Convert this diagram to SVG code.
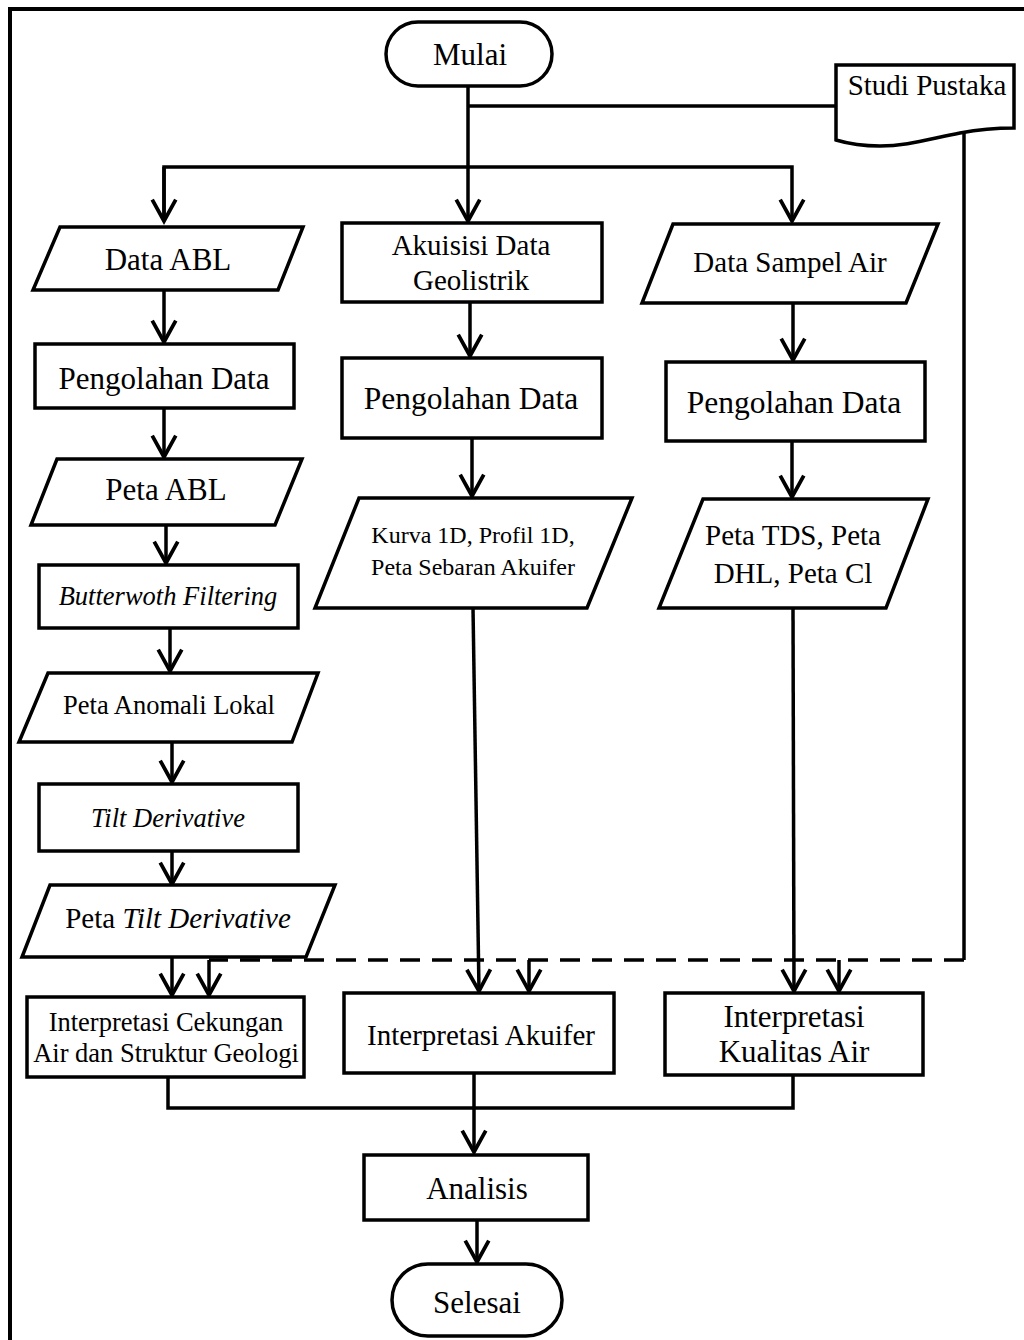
<svg xmlns="http://www.w3.org/2000/svg" width="1024" height="1340" viewBox="0 0 1024 1340">
  <style>
    .shape { fill: #ffffff; stroke: #000000; stroke-width: 3.5; stroke-linejoin: miter; }
    .line { fill: none; stroke: #000000; stroke-width: 3.5; }
    .dash { fill: none; stroke: #000000; stroke-width: 3.5; stroke-dasharray: 20 12; }
    .t { font-family: "Liberation Serif", "Times New Roman", serif; fill: #000000; text-anchor: middle; }
    .i { font-style: italic; }
  </style>
  <defs>
    <marker id="arrow" markerUnits="userSpaceOnUse" markerWidth="30" markerHeight="30" viewBox="-24 -14 28 28" refX="0" refY="0" orient="auto">
      <path d="M -20,-11 L 0,0 L -20,11" fill="none" stroke="#000000" stroke-width="3.5" stroke-linejoin="miter"/>
    </marker>
  </defs>

  <rect width="1024" height="1340" fill="#ffffff"/>

  <!-- page frame -->
  <path d="M10,1340 V9 H1024" fill="none" stroke="#000000" stroke-width="4"/>

  <g id="connectors">
    <!-- start to the three branches -->
    <path class="line" d="M468,86 V221" marker-end="url(#arrow)"/>
    <path class="line" d="M468,106 H836"/>
    <path class="line" d="M164,221 V167 H792 V221" marker-end="url(#arrow)"/>
    <path class="line" d="M164,167 V221" marker-end="url(#arrow)"/>

    <!-- left column -->
    <path class="line" d="M164,290 V342" marker-end="url(#arrow)"/>
    <path class="line" d="M164,408 V457" marker-end="url(#arrow)"/>
    <path class="line" d="M166,525 V563" marker-end="url(#arrow)"/>
    <path class="line" d="M170,628 V671" marker-end="url(#arrow)"/>
    <path class="line" d="M172,742 V782" marker-end="url(#arrow)"/>
    <path class="line" d="M172,851 V884" marker-end="url(#arrow)"/>
    <path class="line" d="M172,957 V995" marker-end="url(#arrow)"/>

    <!-- middle column -->
    <path class="line" d="M470,302 V356" marker-end="url(#arrow)"/>
    <path class="line" d="M472,438 V496" marker-end="url(#arrow)"/>
    <path class="line" d="M473,608 L479,991" marker-end="url(#arrow)"/>

    <!-- right column -->
    <path class="line" d="M793,303 V360" marker-end="url(#arrow)"/>
    <path class="line" d="M792,441 V497" marker-end="url(#arrow)"/>
    <path class="line" d="M793,608 L794,991" marker-end="url(#arrow)"/>

    <!-- literature study feed -->
    <path class="line" d="M964,133 V960"/>
    <path class="dash" d="M964,960 H209"/>
    <path class="line" d="M209,960 V995" marker-end="url(#arrow)"/>
    <path class="line" d="M529,960 V991" marker-end="url(#arrow)"/>
    <path class="line" d="M839,960 V991" marker-end="url(#arrow)"/>

    <!-- merge into analysis -->
    <path class="line" d="M168,1077 V1108 H793 V1075"/>
    <path class="line" d="M474,1073 V1152" marker-end="url(#arrow)"/>
    <path class="line" d="M477,1220 V1262" marker-end="url(#arrow)"/>
  </g>

  <g id="mulai">
    <rect class="shape" x="386" y="22" width="166" height="64" rx="32"/>
    <text class="t" x="470" y="65" font-size="31">Mulai</text>
  </g>

  <g id="studi-pustaka">
    <path class="shape" d="M836,65 H1014 V128 C990,128 976,130 960,133 C925,140 905,146 880,146 C860,146 846,143 836,140 Z"/>
    <text class="t" x="927" y="95" font-size="29">Studi Pustaka</text>
  </g>

  <g id="data-abl">
    <polygon class="shape" points="60,227 303,227 278,290 33,290"/>
    <text class="t" x="168" y="270" font-size="31">Data ABL</text>
  </g>

  <g id="pengolahan-abl">
    <rect class="shape" x="35" y="344" width="259" height="64"/>
    <text class="t" x="164" y="389" font-size="31">Pengolahan Data</text>
  </g>

  <g id="peta-abl">
    <polygon class="shape" points="57,459 302,459 275,525 31,525"/>
    <text class="t" x="166" y="500" font-size="31">Peta ABL</text>
  </g>

  <g id="butterworth">
    <rect class="shape" x="39" y="565" width="259" height="63"/>
    <text class="t i" x="168" y="605" font-size="26.5">Butterwoth Filtering</text>
  </g>

  <g id="anomali-lokal">
    <polygon class="shape" points="48,673 318,673 292,742 19,742"/>
    <text class="t" x="169" y="714" font-size="26.5">Peta Anomali Lokal</text>
  </g>

  <g id="tilt-derivative">
    <rect class="shape" x="39" y="784" width="259" height="67"/>
    <text class="t i" x="168" y="827" font-size="26.5">Tilt Derivative</text>
  </g>

  <g id="peta-tilt">
    <polygon class="shape" points="50,885 335,885 306,957 22,957"/>
    <text class="t" x="178" y="928" font-size="29">Peta <tspan class="i">Tilt Derivative</tspan></text>
  </g>

  <g id="akuisisi">
    <rect class="shape" x="342" y="223" width="260" height="79"/>
    <text class="t" x="471" y="255" font-size="29">Akuisisi Data</text>
    <text class="t" x="471" y="290" font-size="29">Geolistrik</text>
  </g>

  <g id="pengolahan-geolistrik">
    <rect class="shape" x="342" y="358" width="260" height="80"/>
    <text class="t" x="471" y="409" font-size="31.5">Pengolahan Data</text>
  </g>

  <g id="kurva">
    <polygon class="shape" points="359,498 632,498 587,608 315,608"/>
    <text class="t" x="473" y="543" font-size="24">Kurva 1D, Profil 1D,</text>
    <text class="t" x="473" y="575" font-size="24">Peta Sebaran Akuifer</text>
  </g>

  <g id="sampel-air">
    <polygon class="shape" points="673,224 938,224 906,303 642,303"/>
    <text class="t" x="790" y="272" font-size="29">Data Sampel Air</text>
  </g>

  <g id="pengolahan-air">
    <rect class="shape" x="666" y="362" width="259" height="79"/>
    <text class="t" x="794" y="413" font-size="31.5">Pengolahan Data</text>
  </g>

  <g id="peta-tds">
    <polygon class="shape" points="703,499 928,499 886,608 659,608"/>
    <text class="t" x="793" y="545" font-size="29">Peta TDS, Peta</text>
    <text class="t" x="793" y="583" font-size="29">DHL, Peta Cl</text>
  </g>

  <g id="interpretasi-cekungan">
    <rect class="shape" x="27" y="997" width="277" height="80"/>
    <text class="t" x="166" y="1031" font-size="26.5">Interpretasi Cekungan</text>
    <text class="t" x="166" y="1062" font-size="26.5">Air dan Struktur Geologi</text>
  </g>

  <g id="interpretasi-akuifer">
    <rect class="shape" x="344" y="993" width="270" height="80"/>
    <text class="t" x="481" y="1045" font-size="29">Interpretasi Akuifer</text>
  </g>

  <g id="interpretasi-kualitas">
    <rect class="shape" x="665" y="993" width="258" height="82"/>
    <text class="t" x="794" y="1027" font-size="31">Interpretasi</text>
    <text class="t" x="794" y="1062" font-size="31">Kualitas Air</text>
  </g>

  <g id="analisis">
    <rect class="shape" x="364" y="1155" width="224" height="65"/>
    <text class="t" x="477" y="1199" font-size="31">Analisis</text>
  </g>

  <g id="selesai">
    <rect class="shape" x="392" y="1264" width="170" height="72" rx="36"/>
    <text class="t" x="477" y="1313" font-size="31">Selesai</text>
  </g>
</svg>
